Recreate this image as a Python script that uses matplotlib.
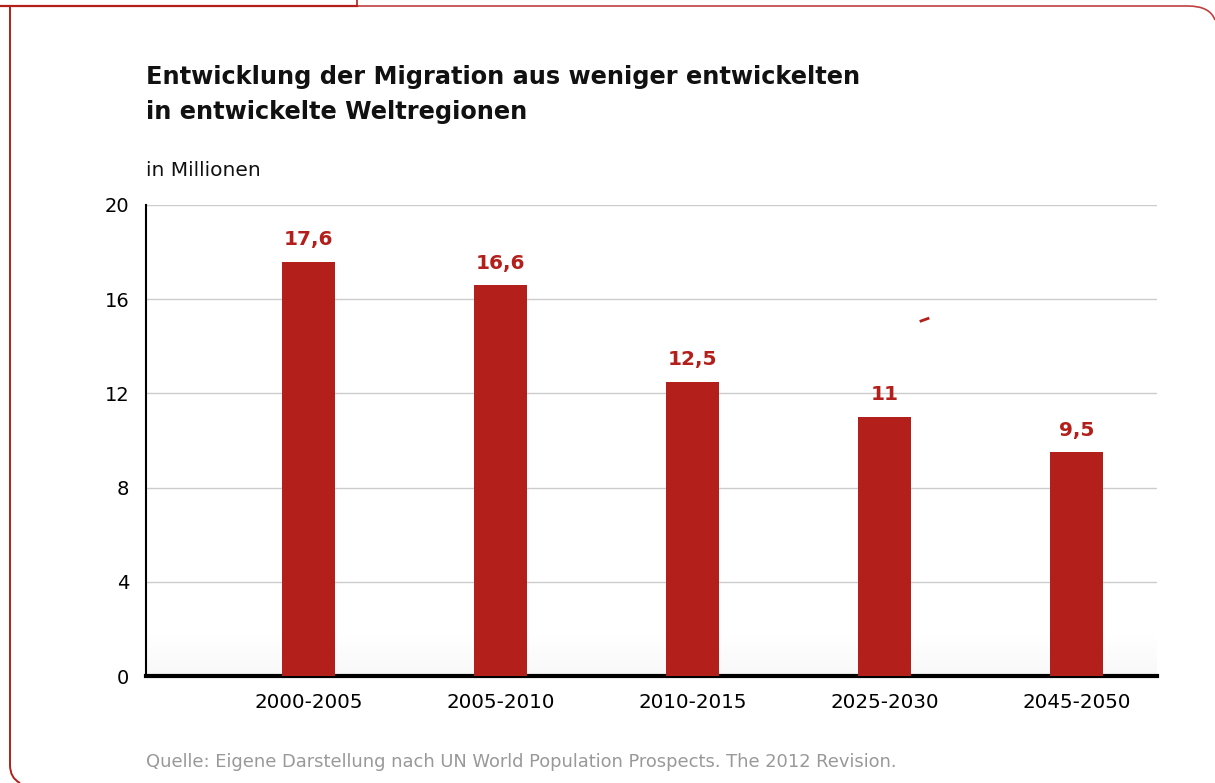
import matplotlib
matplotlib.use("Agg")
import matplotlib.pyplot as plt
from matplotlib.lines import Line2D
from matplotlib.patches import PathPatch
from matplotlib.path import Path
import numpy as np

categories = ["2000-2005", "2005-2010", "2010-2015", "2025-2030", "2045-2050"]
values = [17.6, 16.6, 12.5, 11.0, 9.5]
value_labels = ["17,6", "16,6", "12,5", "11", "9,5"]
yticks = [0, 4, 8, 12, 16, 20]
title_lines = ["Entwicklung der Migration aus weniger entwickelten", "in entwickelte Weltregionen"]

W, H = 1215, 783
RED = "#B31F1A"
FONT = "DejaVu Sans"
plt.rcParams['font.family'] = [FONT]

fig = plt.figure(figsize=(W / 100, H / 100), dpi=100)
fig.patch.set_facecolor("white")

def fx(px):
    return px / W

def fy(py):
    return 1 - py / H

ax_l, ax_r, ax_t, ax_b = 146, 1157, 205, 676
ax = fig.add_axes([fx(ax_l), fy(ax_b), fx(ax_r) - fx(ax_l), fy(ax_t) - fy(ax_b)])

XL = (-0.845, 4.42)
x = np.arange(len(categories))

# faint shadow gradient near the bottom of the plot
grad = np.linspace(1, 0, 100).reshape(-1, 1)
ax.imshow(grad, extent=[XL[0], XL[1], 0, 1.8], aspect="auto", cmap="Greys",
          vmin=0, vmax=18, zorder=1, origin="lower", interpolation="bilinear")

ax.bar(x, values, width=0.276, color=RED, zorder=3)
for xi, v, lab in zip(x, values, value_labels):
    ax.annotate(lab, (xi, v), xytext=(0, 9), textcoords="offset points",
                ha="center", va="bottom", color=RED, fontsize=14.5, fontweight="bold")

ax.set_xlim(*XL)
ax.set_ylim(0, 20)
ax.set_yticks(yticks)
ax.set_yticklabels([str(t) for t in yticks], fontsize=14)
ax.set_xticks(x)
ax.set_xticklabels(categories, fontsize=14.3)
ax.tick_params(axis="y", length=0, pad=12)
ax.tick_params(axis="x", length=0, pad=12)
ax.yaxis.grid(True, color="#CCCCCC", linewidth=1, zorder=0)
ax.set_axisbelow(True)
for s in ["top", "right"]:
    ax.spines[s].set_visible(False)
ax.spines["left"].set_linewidth(1.5)
ax.spines["bottom"].set_linewidth(3)
ax.spines["left"].set_bounds(0, 20)
ax.patch.set_alpha(0)

# Titles and texts
fig.text(fx(146), fy(77), title_lines[0], fontsize=17.3, fontweight="bold",
         ha="left", va="center", color="#111111")
fig.text(fx(146), fy(112), title_lines[1], fontsize=17.3, fontweight="bold",
         ha="left", va="center", color="#111111")
fig.text(fx(146), fy(171), "in Millionen", fontsize=14.5, ha="left", va="center", color="#111111")
fig.text(fx(146), fy(762), "Quelle: Eigene Darstellung nach UN World Population Prospects. The 2012 Revision.",
         fontsize=12.9, ha="left", va="center", color="#999999")

# Frame
tf = fig.transFigure
def P(px, py):
    return (fx(px), fy(py))

fig.add_artist(Line2D([fx(0), fx(357)], [fy(6), fy(6)], color=RED, lw=1.6, transform=tf))
fig.add_artist(Line2D([fx(357), fx(357)], [fy(0), fy(6)], color=RED, lw=1.2, transform=tf))
verts = [P(357, 6), P(1188, 6), P(1210, 6), P(1215, 20)]
codes = [Path.MOVETO, Path.LINETO, Path.CURVE3, Path.CURVE3]
fig.add_artist(PathPatch(Path(verts, codes), fill=False, edgecolor="#C04040", lw=1.2, transform=tf))
verts = [P(10, 6), P(10, 765), P(10, 778), P(20, 783)]
codes = [Path.MOVETO, Path.LINETO, Path.CURVE3, Path.CURVE3]
fig.add_artist(PathPatch(Path(verts, codes), fill=False, edgecolor=RED, lw=1.4, transform=tf))
fig.add_artist(Line2D([fx(921), fx(928)], [fy(321), fy(318.5)], color=RED, lw=2, transform=tf))

fig.savefig("out.png", dpi=100)
